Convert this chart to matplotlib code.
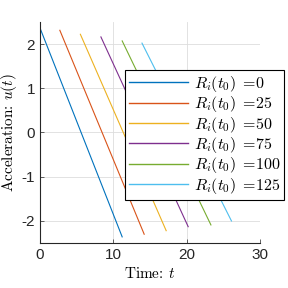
import matplotlib
matplotlib.use("Agg")
import matplotlib.pyplot as plt

# line endpoints (straight segments)
R0 = [0, 25, 50, 75, 100, 125]
t_start = [0.0, 2.7, 5.5, 8.3, 11.2, 13.9]
t_end = [11.2, 14.2, 17.2, 20.2, 23.3, 26.1]
u_start = [2.36, 2.31, 2.22, 2.16, 2.07, 2.02]
u_end = [-2.36, -2.3, -2.22, -2.13, -2.09, -2.0]

colors = [(0, 0.447, 0.741), (0.85, 0.325, 0.098), (0.929, 0.694, 0.125),
          (0.494, 0.184, 0.556), (0.466, 0.674, 0.188), (0.301, 0.745, 0.933)]

plt.rcParams['mathtext.fontset'] = 'cm'
plt.rcParams['font.family'] = ['Liberation Sans', 'DejaVu Sans']

fig = plt.figure(figsize=(2.88, 2.88), dpi=100)
ax = fig.add_axes([0.139, 0.156, 0.764, 0.768])

for i in range(len(R0)):
    ax.plot([t_start[i], t_end[i]], [u_start[i], u_end[i]], color=colors[i],
            lw=0.8, label=r"$R_i(t_0)\;{=}\!" + str(R0[i]) + "$")

ax.set_xlim(0, 30)
ax.set_ylim(-2.5, 2.5)
ax.set_xticks([0, 10, 20, 30])
ax.set_yticks([-2, -1, 0, 1, 2])
ax.set_yticklabels(['-2', '-1', '0', '1', '2'])
ax.tick_params(direction='in', length=3, width=0.5, labelsize=11, colors='#262626')
ax.grid(True, color='#dddddd', lw=0.6)
ax.set_axisbelow(True)
for s in ['top', 'right']:
    ax.spines[s].set_visible(False)
for s in ['left', 'bottom']:
    ax.spines[s].set_linewidth(0.8)
    ax.spines[s].set_color('#262626')

ax.set_xlabel("Time: $t$", family='cmr10', fontsize=11, labelpad=3)
ax.set_ylabel("Acceleration: $u(t)$", family='cmr10', fontsize=11, labelpad=2)

leg = ax.legend(loc='upper left', bbox_to_anchor=(125 / 288, 1 - 70 / 288),
                bbox_transform=fig.transFigure, fontsize=11.5,
                handlelength=3.7, handletextpad=0.35, labelspacing=0.02,
                borderpad=0.25, borderaxespad=0, fancybox=False, framealpha=1)
leg.get_frame().set_edgecolor('black')
leg.get_frame().set_linewidth(0.8)
for ln in leg.get_lines():
    ln.set_linewidth(1.0)

fig.savefig("out.png", dpi=100)
